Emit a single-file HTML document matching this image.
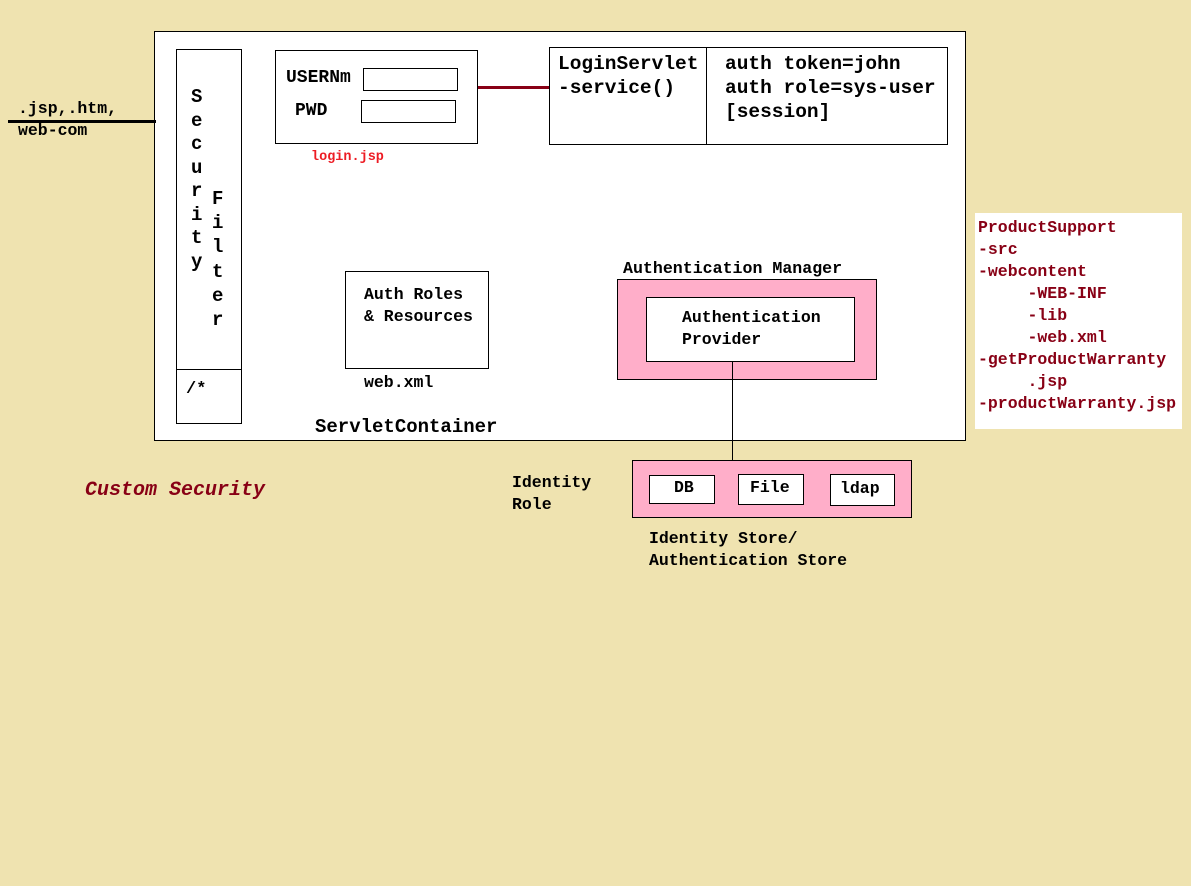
<!DOCTYPE html>
<html><head><meta charset="utf-8"><style>
body{margin:0;width:1191px;height:886px;background:#EFE3B0;position:relative;overflow:hidden;font-family:"Liberation Mono",monospace;font-weight:bold;color:#000}
.b{position:absolute;border:1px solid #000;background:#fff;box-sizing:border-box}
.t{position:absolute;white-space:pre;line-height:1}
.r{color:#880015}
</style></head><body>
<div class="b" style="left:154px;top:31px;width:812px;height:410px"></div>
<div style="position:absolute;left:8px;top:120px;width:148px;height:3px;background:#000"></div>
<div class="t" style="left:18px;top:101px;font-size:16.5px">.jsp,.htm,</div>
<div class="t" style="left:18px;top:123px;font-size:16.5px">web-com</div>

<div class="b" style="left:176px;top:49px;width:66px;height:375px"></div>
<div style="position:absolute;left:176px;top:369px;width:66px;height:1px;background:#000"></div>
<div class="t" style="left:186px;top:381px;font-size:17px">/*</div>
<div class="t" style="left:191px;top:86px;font-size:19px;line-height:23.5px;white-space:pre-line">S
e
c
u
r
i
t
y</div>
<div class="t" style="left:212px;top:187px;font-size:19px;line-height:24.2px;white-space:pre-line">F
i
l
t
e
r</div>

<div class="b" style="left:275px;top:50px;width:203px;height:94px"></div>
<div class="t" style="left:286px;top:69px;font-size:18px">USERNm</div>
<div class="b" style="left:363px;top:68px;width:95px;height:23px"></div>
<div class="t" style="left:295px;top:102px;font-size:18px">PWD</div>
<div class="b" style="left:361px;top:100px;width:95px;height:23px"></div>
<div class="t" style="left:311px;top:151px;font-size:13.5px;color:#ED1C24">login.jsp</div>
<div style="position:absolute;left:478px;top:86px;width:72px;height:3px;background:#880015"></div>

<div class="b" style="left:549px;top:47px;width:399px;height:98px"></div>
<div style="position:absolute;left:706px;top:47px;width:1px;height:98px;background:#000"></div>
<div class="t" style="left:558px;top:52px;font-size:19.5px;line-height:24px">LoginServlet
-service()</div>
<div class="t" style="left:725px;top:52px;font-size:19.5px;line-height:24px">auth token=john
auth role=sys-user
[session]</div>

<div class="b" style="left:345px;top:271px;width:144px;height:98px"></div>
<div class="t" style="left:364px;top:284px;font-size:16.5px;line-height:22px">Auth Roles
&amp; Resources</div>
<div class="t" style="left:364px;top:375px;font-size:16.5px">web.xml</div>
<div class="t" style="left:315px;top:418px;font-size:19px">ServletContainer</div>

<div class="t" style="left:623px;top:261px;font-size:16.6px">Authentication Manager</div>
<div class="b" style="left:617px;top:279px;width:260px;height:101px;background:#FFAEC9"></div>
<div class="b" style="left:646px;top:297px;width:209px;height:65px"></div>
<div class="t" style="left:682px;top:307px;font-size:16.5px;line-height:22px">Authentication
Provider</div>
<div style="position:absolute;left:732px;top:362px;width:1px;height:99px;background:#000"></div>

<div class="b" style="left:632px;top:460px;width:280px;height:58px;background:#FFAEC9"></div>
<div class="b" style="left:649px;top:475px;width:66px;height:29px"></div>
<div class="t" style="left:674px;top:480px;font-size:16.5px">DB</div>
<div class="b" style="left:738px;top:474px;width:66px;height:31px"></div>
<div class="t" style="left:750px;top:480px;font-size:16.5px">File</div>
<div class="b" style="left:830px;top:474px;width:65px;height:32px"></div>
<div class="t" style="left:840px;top:481px;font-size:16.5px">ldap</div>
<div class="t" style="left:512px;top:472px;font-size:16.5px;line-height:22px">Identity
Role</div>
<div class="t" style="left:649px;top:528px;font-size:16.5px;line-height:22px">Identity Store/
Authentication Store</div>

<div class="t r" style="left:85px;top:481px;font-size:20px;font-style:italic">Custom Security</div>

<div style="position:absolute;left:975px;top:213px;width:207px;height:216px;background:#fff"></div>
<div class="t r" style="left:978px;top:217px;font-size:16.5px;line-height:22px">ProductSupport
-src
-webcontent
     -WEB-INF
     -lib
     -web.xml
-getProductWarranty
     .jsp
-productWarranty.jsp</div>
</body></html>
